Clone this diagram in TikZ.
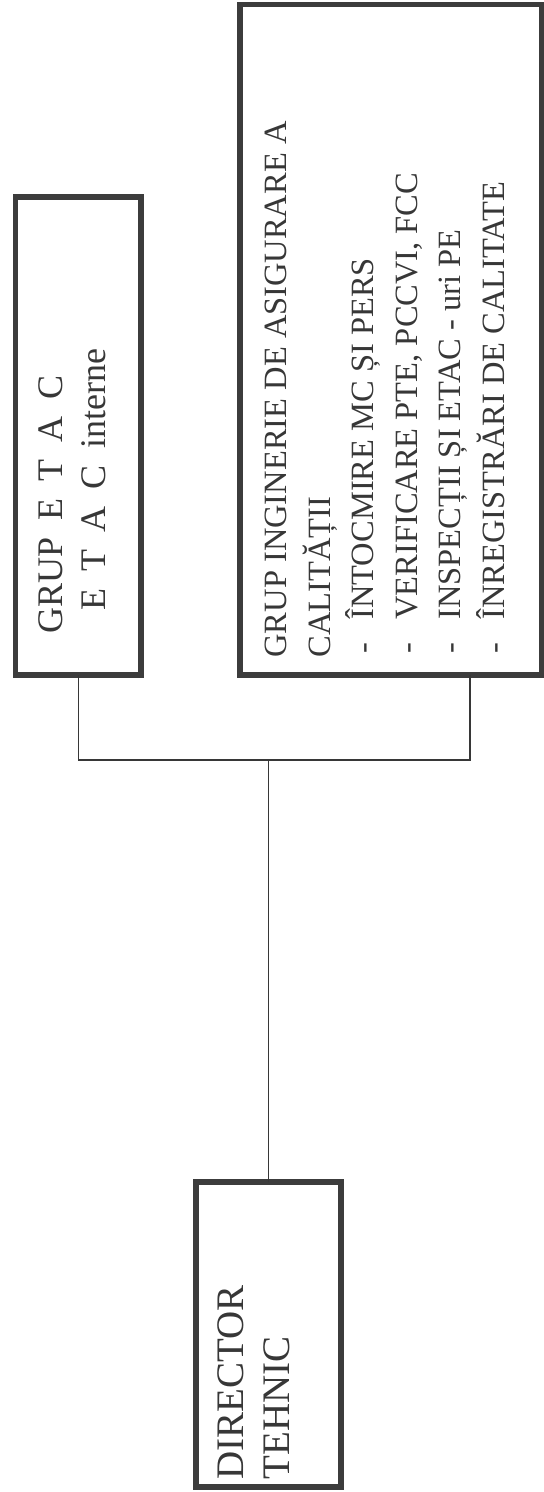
\documentclass[tikz,border=0pt]{standalone}
\usepackage{fontspec}
\setmainfont{Liberation Serif}
\newfontfamily\spacedfont[WordSpace=1.9]{Liberation Serif}
\usepackage{tikz}
\usetikzlibrary{positioning}
\definecolor{OrgInk}{RGB}{55,55,55}
\definecolor{OrgFrame}{RGB}{60,60,60}
\newcommand{\itemdash}{\makebox[19pt][l]{\hspace{2pt}-}}

\begin{document}
\begin{tikzpicture}[
x=0.5pt,
y=-0.5pt,
box/.style={
draw=OrgFrame,
line width=2.6pt,
anchor=north west,
inner sep=0pt,
outer sep=0pt
},
boxtext/.style={
rotate=90,
anchor=north west,
inner sep=0pt,
align=left,
text=OrgInk
},
wire/.style={
draw=OrgInk,
line width=0.75pt
}
]
\useasboundingbox (0,0) rectangle (544,1492);

% the three boxes
\node[box, minimum width=62.75pt, minimum height=239pt] (etac) at (15.5,197) {};
\node[box, minimum width=151pt, minimum height=335.25pt] (ing) at (240,4.5) {};
\node[box, minimum width=72.5pt, minimum height=152.5pt] (dir) at (196,1182) {};

% texts, turned upward
\node[boxtext, font=\fontsize{19.5}{23}\selectfont] (dirtext) at (217,1480) {DIRECTOR\\TEHNIC};
\node[boxtext, font=\spacedfont\fontsize{18}{21.5}\selectfont] (etactext) at (38,634)
{GRUP E T A C\\\hspace*{11.5pt}E T A C interne};
\node[boxtext, font=\fontsize{16.25}{21.75}\selectfont] (ingtext) at (265,658)
{GRUP INGINERIE DE ASIGURARE A\\
CALITĂȚII\\
\itemdash ÎNTOCMIRE MC ȘI PERS\\
\itemdash VERIFICARE PTE, PCCVI, FCC\\
\itemdash INSPECȚII ȘI ETAC - uri PE\\
\itemdash ÎNREGISTRĂRI DE CALITATE};

% connectors
\coordinate (ingtap) at ([xshift=39.5pt]ing.south);
\coordinate (bus) at ([yshift=-42.5pt]etac.south);
\draw[wire] (etac.south) -- (bus) -| (ingtap);
\draw[wire] (dir.north) -- (dir.north |- bus);
\end{tikzpicture}
\end{document}
